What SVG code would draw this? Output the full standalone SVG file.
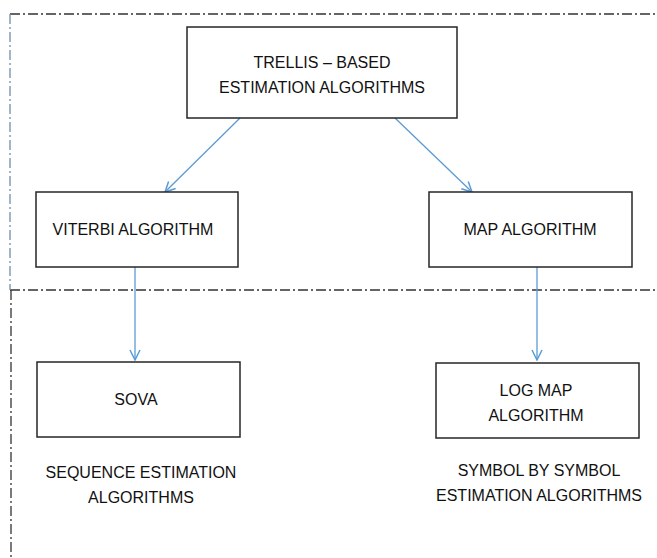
<svg xmlns="http://www.w3.org/2000/svg" width="657" height="558" viewBox="0 0 657 558">
<style>
.box{fill:#fff;stroke:#262626;stroke-width:1.5}
.t{font-family:"Liberation Sans",Arial,sans-serif;font-size:16px;fill:#111;text-anchor:middle}
.dd{stroke:#333;stroke-width:1.3;stroke-dasharray:10 3 2 3;fill:none}
.c{stroke:#5B9BD5;stroke-width:1.3;fill:none;marker-end:url(#ah)}
</style>
<defs>
<marker id="ah" viewBox="0 0 12 12" refX="11" refY="6" markerWidth="12" markerHeight="12" markerUnits="userSpaceOnUse" orient="auto">
<path d="M1,1 L11,6 L1,11" fill="none" stroke="#5B9BD5" stroke-width="1.5"/>
</marker>
</defs>
<g id="frame">
<path class="dd" d="M10,14 H657"/>
<path class="dd" d="M10,290 H657"/>
<path class="dd" d="M10,14 V290" style="stroke:#6f8fb0"/>
<path class="dd" d="M11,290 V558"/>
</g>
<g id="connectors">
<path class="c" d="M240,118 L165,192"/>
<path class="c" d="M395,118 L472,192"/>
<path class="c" d="M135,267 V360"/>
<path class="c" d="M537,267 V360"/>
</g>
<g id="trellis">
<rect class="box" x="187" y="27" width="270" height="91"/>
<text class="t" x="322" y="68">TRELLIS – BASED</text>
<text class="t" x="322" y="93">ESTIMATION ALGORITHMS</text>
</g>
<g id="viterbi">
<rect class="box" x="36" y="192" width="202" height="75"/>
<text class="t" x="133" y="235">VITERBI ALGORITHM</text>
</g>
<g id="map">
<rect class="box" x="429" y="192" width="203" height="75"/>
<text class="t" x="530" y="235">MAP ALGORITHM</text>
</g>
<g id="sova">
<rect class="box" x="37" y="362" width="203" height="75"/>
<text class="t" x="136" y="405">SOVA</text>
</g>
<g id="logmap">
<rect class="box" x="436" y="363" width="203" height="75"/>
<text class="t" x="536" y="396">LOG MAP</text>
<text class="t" x="536" y="421">ALGORITHM</text>
</g>
<g id="label-seq">
<text class="t" x="141" y="478">SEQUENCE ESTIMATION</text>
<text class="t" x="141" y="503">ALGORITHMS</text>
</g>
<g id="label-sym">
<text class="t" x="539" y="476">SYMBOL BY SYMBOL</text>
<text class="t" x="539" y="501">ESTIMATION ALGORITHMS</text>
</g>
</svg>
